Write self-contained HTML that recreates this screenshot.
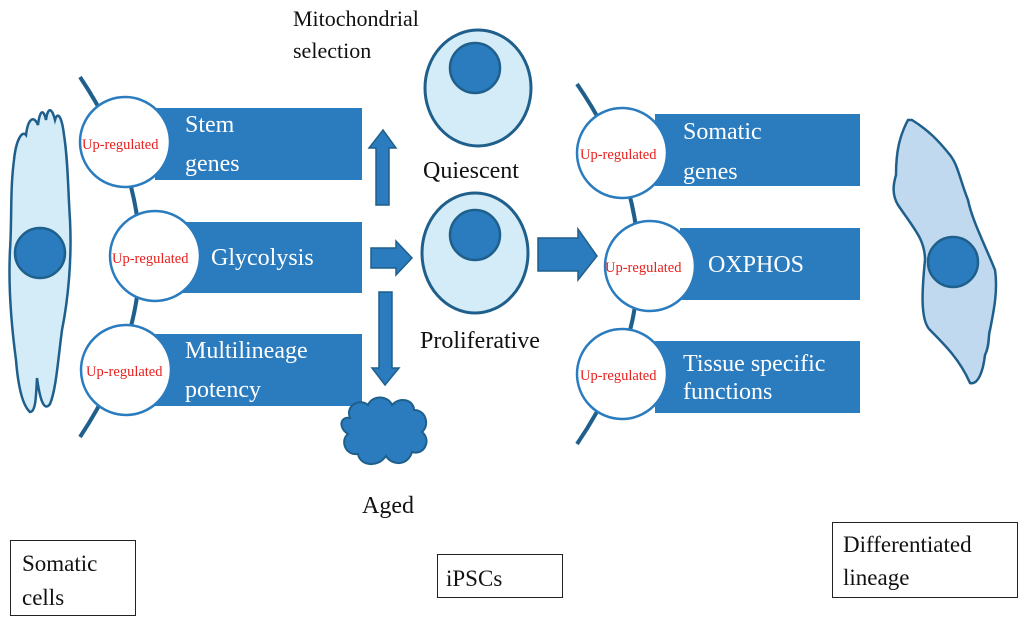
<!DOCTYPE html>
<html><head><meta charset="utf-8"><style>
html,body{margin:0;padding:0;background:#fff;}
svg{display:block;}
</style></head><body>
<svg width="1024" height="624" viewBox="0 0 1024 624" xmlns="http://www.w3.org/2000/svg" font-family="'Liberation Serif', 'Times New Roman', serif">
<path d="M14,160 C10,190 12,220 10,250 C8,290 12,330 16,360 C18,385 22,405 30,412 C36,412 36,395 37,378 C40,400 44,412 50,404 C56,390 58,360 62,330 C68,300 72,260 70,220 C68,190 68,160 64,135 C62,118 58,110 55,120 C52,108 48,106 46,120 C44,110 40,108 38,125 C34,115 28,118 26,135 C22,130 16,140 14,160 Z" fill="#d4ecf7" stroke="#1f5f8b" stroke-width="2.5"/>
<circle cx="40" cy="253" r="25" fill="#2b7cbf" stroke="#1f5f8b" stroke-width="2.5"/>
<path d="M80,77 Q200,256 80,437" fill="none" stroke="#1f5f8b" stroke-width="4"/>
<g fill="#2b7cbf">
<rect x="155" y="108" width="207" height="72"/>
<rect x="180" y="222" width="182" height="71"/>
<rect x="155" y="334" width="207" height="72"/>
</g>
<g fill="#fff" stroke="#2b7cbf" stroke-width="2.5">
<circle cx="125" cy="142" r="45"/>
<circle cx="155" cy="256" r="45"/>
<circle cx="126" cy="370" r="45"/>
</g>
<g fill="#e8201e" font-size="14.5">
<text x="82" y="149">Up-regulated</text>
<text x="112" y="263">Up-regulated</text>
<text x="86" y="376">Up-regulated</text>
</g>
<g fill="#fff" font-size="24">
<text x="185" y="132">Stem</text>
<text x="185" y="171">genes</text>
<text x="211" y="265">Glycolysis</text>
<text x="185" y="358">Multilineage</text>
<text x="185" y="397">potency</text>
</g>
<g fill="#2b7cbf" stroke="#1f5f8b" stroke-width="1.5">
<path d="M376,205 L376,148 L369,148 L383,130 L396,148 L389,148 L389,205 Z"/>
<path d="M371,248 L396,248 L396,241 L412,258 L396,275 L396,268 L371,268 Z"/>
<path d="M379,292 L392,292 L392,368 L399,368 L385,385 L372,368 L379,368 Z"/>
<path d="M538,238 L578,238 L578,229 L597,256 L578,280 L578,271 L538,271 Z"/>
</g>
<ellipse cx="478" cy="88" rx="53" ry="58" fill="#d4ecf7" stroke="#1f5f8b" stroke-width="3"/>
<circle cx="475" cy="68" r="25" fill="#2b7cbf" stroke="#1f5f8b" stroke-width="2.5"/>
<ellipse cx="475" cy="253" rx="53" ry="60" fill="#d4ecf7" stroke="#1f5f8b" stroke-width="3"/>
<circle cx="475" cy="235" r="25" fill="#2b7cbf" stroke="#1f5f8b" stroke-width="2.5"/>
<path d="M350,418 C345,405 360,398 368,405 C372,395 388,395 392,405 C400,396 414,400 414,410 C426,410 430,425 422,432 C432,440 424,456 412,452 C408,466 392,466 386,456 C378,468 360,466 358,454 C345,456 340,440 348,434 C338,428 340,416 350,418 Z" fill="#2b7cbf" stroke="#1f5f8b" stroke-width="2"/>
<g fill="#111" font-size="24">
<text x="293" y="26" font-size="22">Mitochondrial</text>
<text x="293" y="58" font-size="22">selection</text>
<text x="423" y="178">Quiescent</text>
<text x="420" y="348">Proliferative</text>
<text x="362" y="513">Aged</text>
</g>
<path d="M577,84 Q700,263 577,444" fill="none" stroke="#1f5f8b" stroke-width="4"/>
<g fill="#2b7cbf">
<rect x="655" y="114" width="205" height="72"/>
<rect x="680" y="228" width="180" height="72"/>
<rect x="655" y="341" width="205" height="72"/>
</g>
<g fill="#fff" stroke="#2b7cbf" stroke-width="2.5">
<circle cx="622" cy="153" r="45"/>
<circle cx="650" cy="266" r="45"/>
<circle cx="622" cy="374" r="45"/>
</g>
<g fill="#e8201e" font-size="14.5">
<text x="580" y="159">Up-regulated</text>
<text x="605" y="272">Up-regulated</text>
<text x="580" y="380">Up-regulated</text>
</g>
<g fill="#fff" font-size="24">
<text x="683" y="139">Somatic</text>
<text x="683" y="179">genes</text>
<text x="708" y="272">OXPHOS</text>
<text x="683" y="371">Tissue specific</text>
<text x="683" y="399">functions</text>
</g>
<path d="M908,120 C900,135 896,150 896,175 C893,185 892,195 898,205 C915,230 925,240 925,260 C922,290 920,320 930,330 C945,345 960,360 970,383 C978,385 983,372 985,355 C990,345 988,335 990,330 C994,310 998,290 995,270 C985,245 972,220 968,200 C960,180 958,165 950,155 C938,140 928,130 912,120 Z" fill="#c0d9ef" stroke="#1f5f8b" stroke-width="2.5"/>
<circle cx="953" cy="262" r="25" fill="#2b7cbf" stroke="#1f5f8b" stroke-width="2.5"/>
<g fill="#fff" stroke="#222" stroke-width="1">
<rect x="10.5" y="540.5" width="125" height="75"/>
<rect x="437.5" y="554.5" width="125" height="43"/>
<rect x="832.5" y="522.5" width="185" height="75"/>
</g>
<g fill="#111" font-size="23">
<text x="22" y="571">Somatic</text>
<text x="22" y="605">cells</text>
<text x="446" y="586">iPSCs</text>
<text x="843" y="552">Differentiated</text>
<text x="843" y="585">lineage</text>
</g>
</svg>
</body></html>
